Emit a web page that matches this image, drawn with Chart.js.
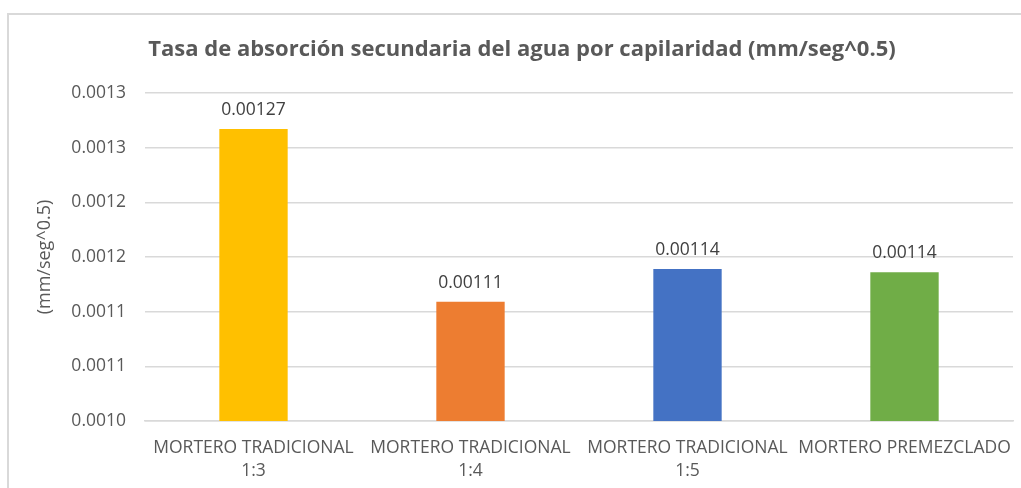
<!DOCTYPE html>
<html>
<head>
<meta charset="utf-8">
<script src="https://cdn.jsdelivr.net/npm/chart.js@4/dist/chart.umd.min.js"></script>
<style>
  html, body { margin: 0; padding: 0; background: #fff; overflow: hidden; }
  #box { position: absolute; left: 7px; top: 13px; width: 1040px; height: 500px;
         border: 2px solid #d9d9d9; box-sizing: border-box; }
  #mycanvas { position: absolute; left: 0; top: 0; }
</style>
</head>
<body>
<div id="box"><canvas id="mycanvas" width="1030" height="474"></canvas></div>
<script>
var categories = [
  ['MORTERO TRADICIONAL', '1:3'],
  ['MORTERO TRADICIONAL', '1:4'],
  ['MORTERO TRADICIONAL', '1:5'],
  'MORTERO PREMEZCLADO'
];
var values = [0.001267, 0.001109, 0.001139, 0.001136];
var valueLabels = ['0.00127', '0.00111', '0.00114', '0.00114'];
var tickLabels = ['0.0010', '0.0011', '0.0011', '0.0012', '0.0012', '0.0013', '0.0013'];
var barColors = ['#FFC000', '#ED7D31', '#4472C4', '#70AD47'];

var fontName = '"Open Sans", sans-serif';

// value above each bar
var valuePlugin = {
  id: 'valuePlugin',
  afterLayout: function(chart) {
    // title is centred on the whole box, not only left of the padding
    chart.titleBlock.right += 22;
  },
  afterDatasetsDraw: function(chart) {
    var ctx = chart.ctx;
    var meta = chart.getDatasetMeta(0);
    ctx.save();
    ctx.fillStyle = '#404040';
    ctx.font = '17.5px ' + fontName;
    ctx.textAlign = 'center';
    ctx.textBaseline = 'alphabetic';
    meta.data.forEach(function(bar, i) {
      ctx.fillText(valueLabels[i], bar.x, bar.y - 14);
    });
    ctx.restore();
  }
};

var ctx = document.getElementById('mycanvas');
var barGraph = new Chart(ctx, {
  type: 'bar',
  data: {
    labels: categories,
    datasets: [{
      label: 'Tasa',
      data: values,
      backgroundColor: barColors,
      borderWidth: 0,
      categoryPercentage: 1,
      barPercentage: 0.315
    }]
  },
  options: {
    responsive: false,
    animation: false,
    layout: { padding: { left: 0, right: 26, top: 0, bottom: 0 } },
    plugins: {
      legend: { display: false },
      tooltip: { enabled: false },
      title: {
        display: true,
        text: 'Tasa de absorción secundaria del agua por capilaridad (mm/seg^0.5)',
        color: '#595959',
        font: { family: fontName, size: 22, weight: 'bold' },
        padding: { top: 22, bottom: 29.6 }
      }
    },
    scales: {
      x: {
        grid: { display: false, drawTicks: false },
        border: { color: '#d9d9d9', width: 1.5 },
        ticks: {
          color: '#595959',
          font: { family: fontName, size: 17.5, lineHeight: 1.35 },
          maxRotation: 0,
          autoSkip: false,
          padding: 15
        },
        afterFit: function(scale) { scale.height = 68; }
      },
      y: {
        min: 0.001,
        max: 0.0013,
        grid: { color: '#d9d9d9', drawTicks: false, lineWidth: 1.5 },
        border: { display: false },
        ticks: {
          stepSize: 0.00005,
          color: '#595959',
          font: { family: fontName, size: 17.5 },
          padding: 19,
          callback: function(value, index) { return tickLabels[index]; }
        },
        title: {
          display: true,
          text: '(mm/seg^0.5)',
          color: '#595959',
          font: { family: fontName, size: 18 },
          padding: { top: 25.5, bottom: 0 }
        },
        afterFit: function(scale) { scale.width = 136; }
      }
    }
  },
  plugins: [valuePlugin]
});
</script>
</body>
</html>
